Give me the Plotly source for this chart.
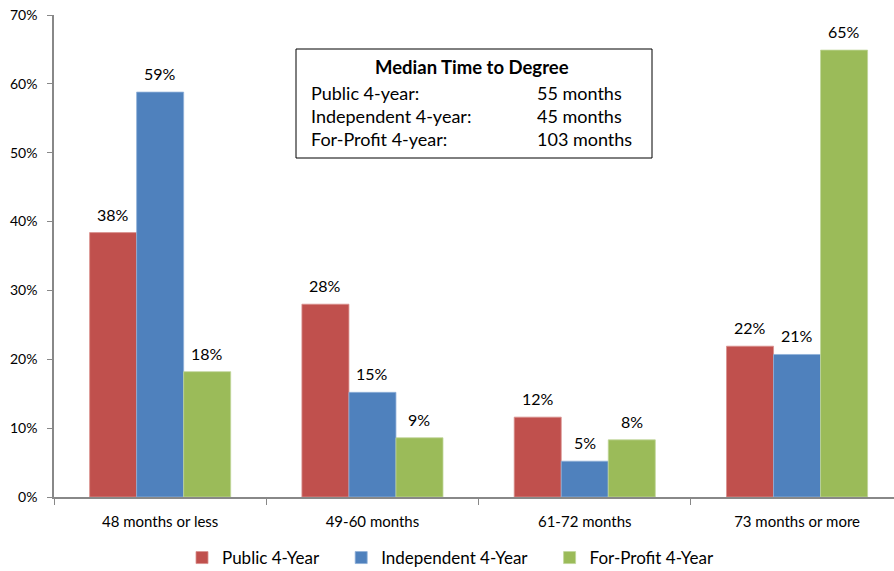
import plotly.graph_objects as go

# Share of bachelor's degree completers by time to degree
categories = ["48 months or less", "49-60 months", "61-72 months", "73 months or more"]
public_4yr = [38.4, 28.0, 11.6, 21.9]
independent_4yr = [58.8, 15.2, 5.2, 20.7]
forprofit_4yr = [18.2, 8.6, 8.3, 64.9]

series_names = ["Public 4-Year", "Independent 4-Year", "For-Profit 4-Year"]
series_values = [public_4yr, independent_4yr, forprofit_4yr]
series_colors = ["#C0504D", "#4F81BD", "#9BBB59"]
series_edges = ["#D9908E", "#8FB0D8", "#C0D699"]

# Median time to degree table
median_rows = ["Public 4-year:", "Independent 4-year:", "For-Profit 4-year:"]
median_months = [55, 45, 103]

y_ticks = [0, 10, 20, 30, 40, 50, 60, 70]

FONT = "Lato"
W, H = 894, 571
M_L, M_R, M_T, M_B = 54, 0, 15, 74
plot_w = W - M_L - M_R
plot_h = H - M_T - M_B
cat_px = 212.3  # width of one category slot
bargap = 0.3355
bar_px = cat_px * (1 - bargap) / 3

# extra room after a legend entry before the next one starts
legend_pad = ["\u00a0" * 4, "\u00a0" * 4, ""]

fig = go.Figure()
for name, vals, col, edge, pad in zip(series_names, series_values, series_colors,
                                      series_edges, legend_pad):
    fig.add_trace(go.Bar(
        x=categories, y=vals, name=name + pad,
        marker=dict(color=col, line=dict(color=edge, width=0.8)),
    ))

# value labels above each bar
for i, vals in enumerate(series_values):
    for cat, v in zip(categories, vals):
        fig.add_annotation(
            x=cat, y=v, xref="x", yref="y",
            text=f"{v:.0f}%", showarrow=False,
            xshift=(i - 1) * bar_px, yanchor="bottom", yshift=7,
            font=dict(family=FONT, size=16, color="#000000"),
        )

# boxed summary of median time to degree
def px_x(px):
    return (px - M_L) / plot_w

def px_y(py):
    return (H - M_B - py) / plot_h

fig.add_shape(type="rect", xref="paper", yref="paper",
              x0=px_x(296), x1=px_x(652), y0=px_y(158), y1=px_y(49),
              line=dict(color="#000000", width=1), fillcolor="white", layer="above")
fig.add_annotation(xref="paper", yref="paper", x=px_x(472), y=px_y(67),
                   text="<b>Median Time to Degree</b>", showarrow=False,
                   xanchor="center", yanchor="middle",
                   font=dict(family=FONT, size=18.5, color="#000000"))
for k, (row, m) in enumerate(zip(median_rows, median_months)):
    yy = px_y(93 + 23 * k)
    fig.add_annotation(xref="paper", yref="paper", x=px_x(309), y=yy, text=row,
                       showarrow=False, xanchor="left", yanchor="middle",
                       font=dict(family=FONT, size=18, color="#000000"))
    fig.add_annotation(xref="paper", yref="paper", x=px_x(535), y=yy, text=f"{m} months",
                       showarrow=False, xanchor="left", yanchor="middle",
                       font=dict(family=FONT, size=18, color="#000000"))

fig.update_layout(
    width=W, height=H,
    margin=dict(l=M_L, r=M_R, t=M_T, b=M_B, pad=0, autoexpand=False),
    paper_bgcolor="white", plot_bgcolor="white",
    barmode="group", bargap=bargap, bargroupgap=0,
    font=dict(family=FONT, size=14, color="#000000"),
    showlegend=True,
    legend=dict(orientation="h", x=px_x(182), xanchor="left",
                y=px_y(558), yanchor="middle",
                font=dict(family=FONT, size=17, color="#000000"),
                itemwidth=30, tracegroupgap=0),
    xaxis=dict(
        type="category",
        range=[-0.5, -0.5 + plot_w / cat_px],
        showline=True, linecolor="#888888", linewidth=1.5,
        ticks="outside", tickson="boundaries", ticklen=6, tickcolor="#888888",
        ticklabelstandoff=10,
        tickfont=dict(family=FONT, size=15, color="#000000"),
        showgrid=False, zeroline=False, fixedrange=True,
    ),
    yaxis=dict(
        range=[0, 70], tickvals=y_ticks,
        ticktext=[f"{t}%" for t in y_ticks],
        showline=True, linecolor="#888888", linewidth=1.5,
        ticks="outside", ticklen=5, tickcolor="#888888",
        ticklabelstandoff=7,
        tickfont=dict(family=FONT, size=14, color="#000000"),
        showgrid=False, zeroline=False, fixedrange=True,
    ),
)

fig.write_html("out.html")
